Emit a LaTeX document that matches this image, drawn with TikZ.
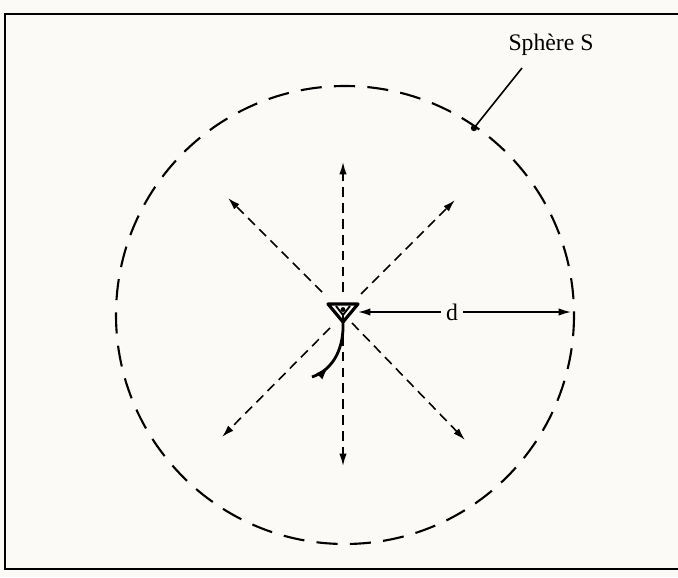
\documentclass[tikz,border=0pt]{standalone}
\usepackage{fontspec}
\setmainfont{Liberation Serif}
\usetikzlibrary{arrows.meta,decorations.markings,positioning}
\tikzset{
    ray/.style={line width=0.9pt, dash pattern=on 5.5pt off 3.5pt, -{Latex[length=7pt,width=4.2pt]}},
    rim/.style={line width=1.2pt, dash pattern=on 12pt off 7pt},
    dimline/.style={line width=0.9pt, -{Latex[length=7pt,width=4.2pt]}},
    lbl/.style={font=\fontsize{13.5}{15}\selectfont, inner sep=1pt}
}

\begin{document}
\begin{tikzpicture}[x=0.02cm, y=-0.02cm]
    \useasboundingbox (0,0) rectangle (678,577);
    \fill[white!96!brown] (0,0) rectangle (678,577);
    \draw[line width=1.5pt] (690,14) -- (5,14) -- (5,569) -- (690,569);

    % sphere
    \coordinate (c) at (345,315);
    \draw[rim] (c) circle (229);
    \node[lbl] (sph) at (551,45) {Sphère S};
    \coordinate (spt) at (474,128);
    \draw[line width=0.9pt] (522,68) -- (spt);
    \fill (spt) circle (3.2);

    % observer
    \coordinate (o) at (343,312);
    \draw[line width=1.8pt, line join=round] (328,304) -- (358,304) -- (343,322) -- cycle;
    \draw[line width=1.1pt] (336,306) -- (343,315) -- (350,306);
    \fill (343,309.5) circle (2.4);
    \draw[line width=1.4pt] (343,314) -- (343,322);
    \draw[line width=1.6pt, postaction={decorate},
        decoration={markings, mark=at position 0.3 with {\arrow{Latex[length=8pt,width=5pt]}}}]
        (312,377) .. controls (335,369) and (344,346) .. (343,322);

    % rays
    \foreach \name/\sx/\sy/\ex/\ey in {u/343/292/343/162, d/343/336/343/466,
        ul/322/292/228/198, ur/361/294/455/200,
        ll/330/328/222/437, lr/352/323/465/440}{
        \coordinate (s\name) at (\sx,\sy);
        \coordinate (e\name) at (\ex,\ey);
        \draw[ray] (s\name) -- (e\name);
    }

    % distance d
    \node[lbl] (dist) at (452,312) {d};
    \coordinate (dl) at (358,312);
    \coordinate (dr) at (571,312);
    \draw[dimline] (dist.west) ++(-3,0) -- (dl);
    \draw[dimline] (dist.east) ++(3,0) -- (dr);
\end{tikzpicture}
\end{document}
